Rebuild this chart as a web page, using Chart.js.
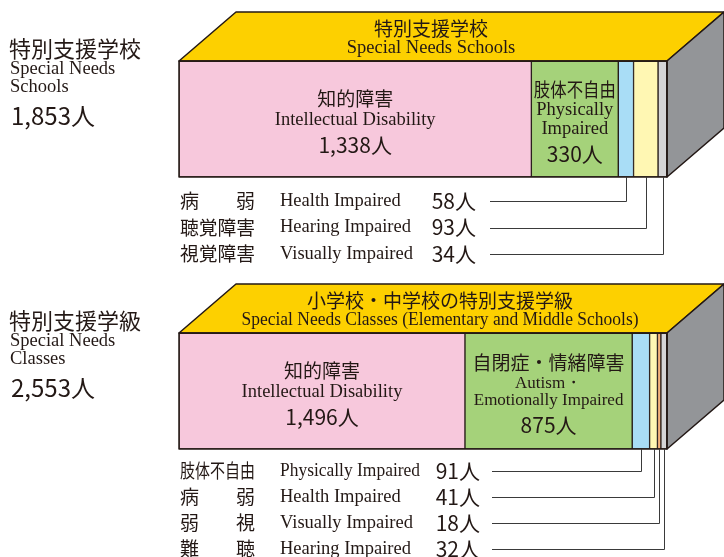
<!DOCTYPE html>
<html>
<head>
<meta charset="utf-8">
<script src="https://cdn.jsdelivr.net/npm/chart.js@4/dist/chart.umd.min.js"></script>
<style>
  body { margin: 0; background: #fff; }
  .block { position: absolute; left: 0; width: 724px; }
</style>
</head>
<body>
<div class="block" style="top:0;height:278px"><canvas id="schoolChart"></canvas></div>
<div class="block" style="top:278px;height:279px"><canvas id="classChart"></canvas></div>
<script>
// 特別支援学校 (Special Needs Schools)
const schoolCats = ['知的障害', '肢体不自由', '病弱', '聴覚障害', '視覚障害'];
const schoolCatsEn = ['Intellectual Disability', 'Physically\nImpaired', 'Health Impaired', 'Hearing Impaired', 'Visually Impaired'];
const schoolValues = [1338, 330, 58, 93, 34];

// 特別支援学級 (Special Needs Classes)
const classCats = ['知的障害', '自閉症・情緒障害', '肢体不自由', '病弱', '弱視', '難聴'];
const classCatsEn = ['Intellectual Disability', 'Autism・\nEmotionally Impaired', 'Physically Impaired', 'Health Impaired', 'Visually Impaired', 'Hearing Impaired'];
const classValues = [1496, 875, 91, 41, 18, 32];

const schoolColors = ['#F7C8DC', '#A5D27A', '#A9DDF6', '#FFF7B3', '#D5D5D6'];
const classColors = ['#F7C8DC', '#A5D27A', '#A9DDF6', '#FFF7B3', '#F6B27A', '#D5D5D6'];

const INK = '#231815';
const JP = "'Noto Sans CJK JP', sans-serif";
const SERIF = "'Liberation Serif', 'Times New Roman', serif";
const DEPTH_X = 57, DEPTH_Y = 49;   // 3D box depth

const fmt = n => n.toLocaleString('en-US') + '人';

function text(ctx, str, x, y, font, align, maxW) {
    ctx.font = font;
    ctx.textAlign = align || 'center';
    ctx.textBaseline = 'middle';
    ctx.fillStyle = INK;
    if (maxW) ctx.fillText(str, x, y, maxW); else ctx.fillText(str, x, y);
}

// Draws the box faces, labels and leader lines around the stacked bar
function boxPlugin(cfg) {
    return {
        id: 'box3d',
        afterDatasetsDraw(chart) {
            const ctx = chart.ctx;
            const els = chart.data.datasets.map((d, i) => chart.getDatasetMeta(i).data[0]);
            const left = els[0].base, right = els[els.length - 1].x;
            const top = els[0].y - els[0].height / 2, bottom = els[0].y + els[0].height / 2;

            ctx.save();
            ctx.lineJoin = 'round';
            ctx.strokeStyle = INK;
            ctx.lineWidth = 1.5;

            // top face
            ctx.beginPath();
            ctx.moveTo(left, top);
            ctx.lineTo(left + DEPTH_X, top - DEPTH_Y);
            ctx.lineTo(right + DEPTH_X, top - DEPTH_Y);
            ctx.lineTo(right, top);
            ctx.closePath();
            ctx.fillStyle = '#FDD000';
            ctx.fill();
            ctx.stroke();

            // side face
            ctx.beginPath();
            ctx.moveTo(right, top);
            ctx.lineTo(right + DEPTH_X, top - DEPTH_Y);
            ctx.lineTo(right + DEPTH_X, bottom - DEPTH_Y);
            ctx.lineTo(right, bottom);
            ctx.closePath();
            ctx.fillStyle = '#939598';
            ctx.fill();
            ctx.stroke();

            ctx.strokeRect(left, top, right - left, bottom - top);

            // title on top face
            text(ctx, cfg.title, cfg.titleX, top - 32, '19px ' + JP);
            text(ctx, cfg.titleEn, cfg.titleX, top - 12.5, '18.5px ' + SERIF, 'center', cfg.titleW);

            // left summary
            text(ctx, cfg.side[0], 9, top - 12.5, '22px ' + JP, 'left');
            text(ctx, cfg.side[1], 10, top + 8.5, '18.5px ' + SERIF, 'left');
            text(ctx, cfg.side[2], 10, top + 26.5, '18.5px ' + SERIF, 'left');
            text(ctx, fmt(cfg.values.reduce((a, b) => a + b, 0)), 11, top + 55, '24px ' + JP, 'left');

            // labels inside the two large segments
            [0, 1].forEach(i => {
                const el = els[i];
                const cx = (el.base + el.x) / 2;
                const en = cfg.en[i].split('\n');
                const small = cfg.en[i].length > 20 && en.length > 1;
                const enSize = small ? 17 : 18.5;
                const lines = [{ t: cfg.cats[i], f: '19px ' + JP, g: 0 }];
                en.forEach((s, k) => lines.push({ t: s, f: enSize + 'px ' + SERIF, g: k === 0 ? 20.5 : (small ? 17 : 19) }));
                lines.push({ t: fmt(cfg.values[i]), f: '21px ' + JP, g: 25 });
                let y = 0;
                lines.forEach(l => { y += l.g; l.y = y; });
                const y0 = top + 61 - y / 2;
                lines.forEach(l => text(ctx, l.t, cx, y0 + l.y, l.f, 'center', el.x - el.base - 5));
            });

            // legend rows for small segments with leader lines
            ctx.lineWidth = 1;
            ctx.strokeStyle = '#3a3a3a';
            for (let i = 2; i < els.length; i++) {
                const row = i - 2;
                const y = bottom + cfg.legendTop + row * cfg.legendStep;
                const name = cfg.cats[i];
                if (name.length === 2) {
                    text(ctx, name[0], 180, y, '19px ' + JP, 'left');
                    text(ctx, name[1], 255, y, '19px ' + JP, 'right');
                } else {
                    text(ctx, name, 180, y, '19px ' + JP, 'left', 75);
                }
                text(ctx, cfg.en[i], 280, y, '18.5px ' + SERIF, 'left', 140);
                text(ctx, fmt(cfg.values[i]), cfg.numRight, y, '21px ' + JP, 'right');

                const lx = Math.round((els[i].base + els[i].x) / 2) + 0.5;
                const ly = Math.round(y) + 0.5;
                ctx.beginPath();
                ctx.moveTo(cfg.lineStart, ly);
                ctx.lineTo(lx, ly);
                ctx.lineTo(lx, bottom);
                ctx.stroke();
            }
            ctx.restore();
        }
    };
}

function makeChart(id, cfg, pad) {
    const total = cfg.values.reduce((a, b) => a + b, 0);
    return new Chart(document.getElementById(id), {
        type: 'bar',
        data: {
            labels: [''],
            datasets: cfg.values.map((v, i) => ({
                label: cfg.cats[i],
                data: [v],
                backgroundColor: cfg.colors[i],
                borderColor: INK,
                borderWidth: 1,
                borderSkipped: false,
                barPercentage: 1,
                categoryPercentage: 1
            }))
        },
        options: {
            indexAxis: 'y',
            responsive: true,
            maintainAspectRatio: false,
            animation: false,
            events: [],
            layout: { padding: pad },
            scales: {
                x: { stacked: true, min: 0, max: total, display: false },
                y: { stacked: true, display: false }
            },
            plugins: { legend: { display: false }, tooltip: { enabled: false } }
        },
        plugins: [boxPlugin(cfg)]
    });
}

makeChart('schoolChart', {
    cats: schoolCats, en: schoolCatsEn, values: schoolValues, colors: schoolColors,
    title: '特別支援学校', titleEn: 'Special Needs Schools', titleX: 431, titleW: 175,
    side: ['特別支援学校', 'Special Needs', 'Schools'],
    legendTop: 24, legendStep: 26.5, numRight: 476, lineStart: 490
}, { left: 179, right: 57, top: 61, bottom: 101 });

makeChart('classChart', {
    cats: classCats, en: classCatsEn, values: classValues, colors: classColors,
    title: '小学校・中学校の特別支援学級', titleEn: 'Special Needs Classes (Elementary and Middle Schools)', titleX: 440, titleW: 397,
    side: ['特別支援学級', 'Special Needs', 'Classes'],
    legendTop: 22, legendStep: 26, numRight: 480, lineStart: 492
}, { left: 179, right: 57, top: 55, bottom: 108 });
</script>
</body>
</html>
